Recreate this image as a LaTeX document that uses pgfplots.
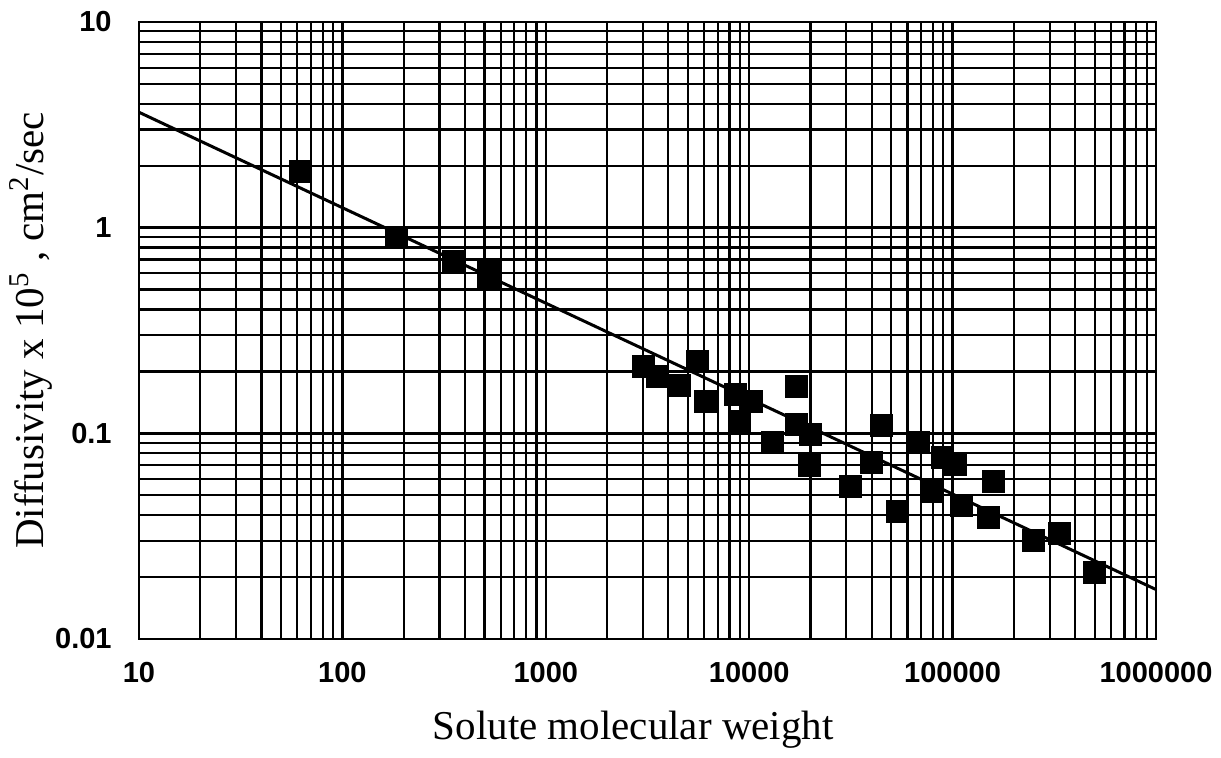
\documentclass[border=0pt]{standalone}
\usepackage{fontspec}
\setmainfont{Liberation Serif}
\setsansfont{Liberation Sans}
\usepackage{pgfplots}
\pgfplotsset{compat=1.18}

\begin{document}
\begin{tikzpicture}
\begin{axis}[
  xmode=log, ymode=log,
  scale only axis,
  width=508.5pt, height=308.5pt,
  xmin=10, xmax=1000000,
  ymin=0.01, ymax=10,
  xtick={10,100,1000,10000,100000,1000000},
  xticklabels={10,100,1000,10000,100000,1000000},
  ytick={0.01,0.1,1,10},
  yticklabels={0.01,0.1,1,10},
  grid=both,
  major grid style={black, line width=1.2pt},
  minor grid style={black, line width=1.1pt},
  major tick length=0pt, minor tick length=0pt,
  axis line style={black, line width=1.2pt},
  tick label style={font=\sffamily\bfseries\fontsize{14.5}{14.5}\selectfont, inner sep=0pt},
  xticklabel style={anchor=center, yshift=-17pt},
  yticklabel style={anchor=east, xshift=-13.5pt},
  xlabel={Solute molecular weight},
  ylabel={Diffusivity x 10\textsuperscript{5} , cm\textsuperscript{2}/sec},
  label style={font=\fontsize{20.5}{20.5}\selectfont, inner sep=0pt},
  xlabel style={at={(axis description cs:0.486,-0.1475)}, anchor=center},
  ylabel style={at={(axis description cs:-0.1062,0.5)}, anchor=center},
]
% fitted line
\addplot[black, line width=1.5pt, no marks] coordinates {(10,3.64) (1000000,0.0174)};
% measured points
\addplot[only marks, mark=square*, mark size=5.5pt, black] coordinates {
  (62.5,1.87) (185,0.896) (350,0.685) (520,0.626) (520,0.566)
  (3006,0.211) (3523,0.189) (4520,0.171) (5535,0.224) (6070,0.143)
  (8510,0.154) (10200,0.143) (8910,0.114) (12950,0.0904) (16980,0.169)
  (16980,0.110) (19900,0.0989) (19700,0.0698) (31600,0.0552) (39700,0.0722)
  (44500,0.109) (53300,0.0417) (67600,0.0904) (79200,0.0523) (88800,0.0764)
  (102800,0.0706) (110000,0.0446) (149300,0.0390) (158100,0.0583)
  (248400,0.0301) (333400,0.0326) (495500,0.0211)
};
\coordinate (SW) at (rel axis cs:0,0);
\end{axis}
\pgfresetboundingbox
\path[use as bounding box] ([shift={(-69.5pt,-59.5pt)}]SW) rectangle ([shift={(541pt,319.5pt)}]SW);
\end{tikzpicture}
\end{document}
